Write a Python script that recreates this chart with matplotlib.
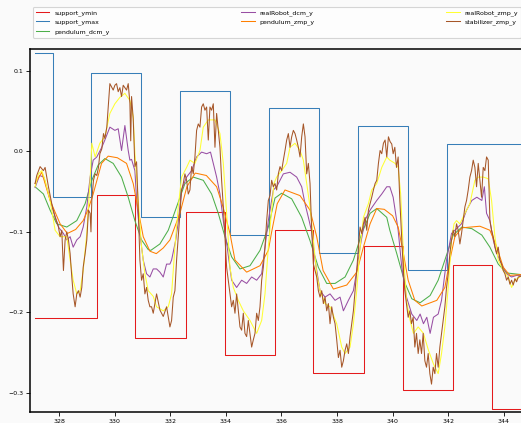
import matplotlib
matplotlib.use("Agg")
import matplotlib.pyplot as plt

# ---------------- data ----------------
ymax_t = [327.14, 327.79, 329.14, 330.95, 332.35, 334.15, 335.57, 337.35, 338.77, 340.57, 341.97, 346.5]
ymax_v = [0.122, -0.057, 0.0975, -0.082, 0.075, -0.104, 0.0537, -0.126, 0.0317, -0.147, 0.0093, 0.0093]

ymin_t = [327.14, 329.36, 330.75, 332.56, 333.97, 335.77, 337.15, 338.96, 340.36, 342.18, 343.57, 346.5]
ymin_v = [-0.2075, -0.054, -0.232, -0.0758, -0.253, -0.0977, -0.2758, -0.118, -0.2963, -0.1408, -0.3197, -0.3197]

pdcm_t = [327.14, 327.44, 327.68, 327.92, 328.28, 328.64, 328.94, 329.18, 329.41, 329.65, 329.95,
          330.25, 330.49, 330.73, 330.97, 331.21, 331.3, 331.63, 331.93, 332.23, 332.53, 332.83,
          333.19, 333.49, 333.73, 333.97, 334.21, 334.51, 334.87, 335.23, 335.53, 335.77, 336.01,
          336.37, 336.73, 337.03, 337.33, 337.63, 337.93, 338.29, 338.59, 338.89, 339.19, 339.43,
          339.79, 339.9, 340.15, 340.45, 340.69, 340.99, 341.35, 341.64, 341.88, 342.18, 342.49,
          342.85, 343.21, 343.5, 343.8, 344.1, 344.62]
pdcm_v = [-0.044, -0.053, -0.073, -0.09, -0.094, -0.086, -0.065, -0.036, -0.017, -0.009, -0.015,
          -0.032, -0.057, -0.086, -0.11, -0.122, -0.123, -0.115, -0.098, -0.069, -0.04, -0.032,
          -0.036, -0.053, -0.077, -0.106, -0.131, -0.146, -0.142, -0.123, -0.094, -0.058, -0.052,
          -0.059, -0.082, -0.111, -0.144, -0.164, -0.164, -0.156, -0.135, -0.102, -0.077, -0.071,
          -0.082, -0.098, -0.127, -0.164, -0.183, -0.188, -0.179, -0.16, -0.135, -0.104, -0.094,
          -0.096, -0.104, -0.119, -0.14, -0.151, -0.153]

rdcm_t = [327.14, 327.3, 327.45, 327.6, 327.8, 328.0, 328.16, 328.28, 328.4, 328.51, 328.64, 328.76,
          328.87, 329.0, 329.12, 329.23, 329.36, 329.54, 329.65, 329.83, 330.01, 330.13, 330.25,
          330.37, 330.49, 330.55, 330.61, 330.73, 330.8, 330.91, 331.03, 331.15, 331.27, 331.39,
          331.51, 331.63, 331.75, 331.87, 331.99, 332.05, 332.2, 332.28, 332.41, 332.59, 332.77,
          332.95, 333.13, 333.31, 333.45, 333.55, 333.67, 333.79, 333.91, 334.05, 334.21, 334.39,
          334.57, 334.75, 334.93, 335.11, 335.29, 335.41, 335.53, 335.71, 335.83, 336.07, 336.31,
          336.55, 336.73, 336.85, 336.97, 337.09, 337.21, 337.39, 337.57, 337.75, 337.93, 338.11,
          338.23, 338.41, 338.59, 338.71, 338.83, 339.0, 339.19, 339.43, 339.61, 339.79, 339.9,
          340.02, 340.09, 340.2, 340.33, 340.5, 340.69, 340.87, 340.99, 341.11, 341.23, 341.35,
          341.47, 341.64, 341.76, 341.94, 342.12, 342.3, 342.48, 342.66, 342.85, 343.03, 343.21,
          343.3, 343.38, 343.5, 343.62, 343.75, 343.92, 344.1, 344.28, 344.46, 344.62]
rdcm_v = [-0.045, -0.03, -0.032, -0.05, -0.075, -0.095, -0.102, -0.11, -0.106, -0.119, -0.11, -0.106,
          -0.094, -0.069, -0.032, -0.011, -0.007, 0.005, 0.014, 0.03, 0.026, 0.028, 0.001,
          0.032, 0.001, -0.011, -0.01, -0.024, -0.065, -0.102, -0.135, -0.152, -0.156, -0.146,
          -0.146, -0.15, -0.156, -0.14, -0.14, -0.135, -0.11, -0.09, -0.048, -0.032, -0.024,
          -0.007, -0.001, -0.003, -0.001, -0.015, -0.032, -0.053, -0.086, -0.119, -0.16, -0.169,
          -0.16, -0.164, -0.156, -0.16, -0.152, -0.119, -0.086, -0.048, -0.044, -0.028, -0.026,
          -0.032, -0.044, -0.065, -0.082, -0.1, -0.135, -0.173, -0.181, -0.177, -0.185, -0.181,
          -0.198, -0.185, -0.173, -0.148, -0.119, -0.086, -0.073, -0.061, -0.053, -0.044, -0.044,
          -0.057, -0.073, -0.098, -0.144, -0.181, -0.202, -0.21, -0.202, -0.214, -0.206, -0.226,
          -0.206, -0.202, -0.185, -0.135, -0.102, -0.096, -0.09, -0.073, -0.061, -0.057, -0.061,
          -0.044, -0.077, -0.086, -0.11, -0.127, -0.14, -0.152, -0.156, -0.154, -0.154]

pzmp_t = [327.14, 327.38, 327.68, 328.04, 328.3, 328.6, 328.87, 329.05, 329.23, 329.53, 329.77, 330.1,
          330.43, 330.67, 330.85, 331.03, 331.27, 331.5, 331.75, 331.99, 332.35, 332.6, 332.9, 333.3,
          333.67, 333.9, 334.15, 334.33, 334.75, 335.23, 335.53, 335.65, 335.85, 336.13, 336.67,
          337.03, 337.27, 337.5, 337.87, 338.35, 338.71, 338.95, 339.19, 339.43, 339.7, 340.0, 340.2,
          340.39, 340.56, 340.8, 341.05, 341.59, 341.88, 342.06, 342.24, 342.49, 343.14, 343.5,
          343.75, 343.98, 344.22, 344.62]
pzmp_v = [-0.04, -0.026, -0.061, -0.09, -0.102, -0.097, -0.086, -0.072, -0.053, -0.015, -0.006, -0.008,
          -0.015, -0.04, -0.073, -0.106, -0.124, -0.127, -0.12, -0.11, -0.077, -0.044, -0.027, -0.03,
          -0.044, -0.069, -0.102, -0.135, -0.15, -0.142, -0.123, -0.1, -0.065, -0.048, -0.055,
          -0.073, -0.106, -0.148, -0.171, -0.166, -0.15, -0.119, -0.09, -0.071, -0.072, -0.08, -0.094,
          -0.127, -0.16, -0.185, -0.192, -0.185, -0.169, -0.135, -0.106, -0.095, -0.093, -0.098,
          -0.119, -0.144, -0.154, -0.153]

rzmp_t = [327.14, 327.26, 327.38, 327.5, 327.68, 327.86, 328.04, 328.28, 328.4, 328.51, 328.64, 328.76,
          328.87, 329.0, 329.12, 329.18, 329.3, 329.47, 329.65, 329.83, 330.01, 330.19, 330.37, 330.55,
          330.67, 330.73, 330.85, 330.97, 331.09, 331.21, 331.39, 331.51, 331.75, 331.93, 332.05,
          332.17, 332.29, 332.41, 332.59, 332.71, 332.89, 333.07, 333.19, 333.37, 333.61, 333.79,
          333.91, 334.03, 334.15, 334.27, 334.45, 334.63, 334.87, 335.11, 335.29, 335.41, 335.53,
          335.65, 335.73, 335.83, 336.01, 336.19, 336.31, 336.49, 336.67, 336.79, 336.91, 337.03,
          337.15, 337.27, 337.39, 337.57, 337.75, 337.99, 338.17, 338.29, 338.47, 338.59, 338.71,
          338.83, 338.95, 339.13, 339.25, 339.43, 339.61, 339.79, 339.9, 340.09, 340.2, 340.29,
          340.39, 340.5, 340.63, 340.75, 340.92, 341.11, 341.29, 341.47, 341.64, 341.76, 341.88,
          342.0, 342.12, 342.21, 342.3, 342.42, 342.6, 342.78, 342.96, 343.08, 343.26, 343.44,
          343.56, 343.68, 343.8, 343.98, 344.16, 344.28, 344.4, 344.62]
rzmp_v = [-0.044, -0.028, -0.024, -0.036, -0.061, -0.098, -0.106, -0.106, -0.135, -0.16, -0.177, -0.173,
          -0.148, -0.102, -0.036, 0.01, -0.007, 0.01, 0.018, 0.047, 0.059, 0.067, 0.072, 0.063,
          0.043, -0.003, -0.061, -0.119, -0.152, -0.173, -0.18, -0.193, -0.198, -0.193, -0.177,
          -0.119, -0.069, -0.032, -0.02, -0.011, -0.015, 0.001, 0.03, 0.039, 0.039, 0.022,
          -0.015, -0.077, -0.144, -0.169, -0.185, -0.198, -0.21, -0.226, -0.21, -0.177, -0.119,
          -0.073, -0.04, -0.032, -0.024, -0.015, 0.005, 0.01, 0.001, -0.011, -0.04, -0.069,
          -0.11, -0.152, -0.173, -0.189, -0.193, -0.214, -0.243, -0.251, -0.243, -0.214, -0.173,
          -0.119, -0.082, -0.065, -0.048, -0.04, -0.02, -0.007, -0.011, -0.015, -0.02, -0.053,
          -0.127, -0.185, -0.21, -0.226, -0.218, -0.226, -0.247, -0.264, -0.276, -0.251, -0.218,
          -0.169, -0.11, -0.09, -0.086, -0.09, -0.077, -0.065, -0.036, -0.032, -0.032, -0.034,
          -0.061, -0.106, -0.135, -0.148, -0.156, -0.169, -0.16, -0.155]

stab_t = [327.14, 327.2, 327.32, 327.44, 327.5, 327.62, 327.74, 327.86, 327.98, 328.04, 328.1, 328.16,
          328.22, 328.28, 328.34, 328.4, 328.46, 328.51, 328.58, 328.64, 328.7, 328.76, 328.82, 328.87,
          328.94, 329.0, 329.06, 329.12, 329.15, 329.18, 329.24, 329.3, 329.36, 329.42, 329.47, 329.54,
          329.6, 329.65, 329.72, 329.77, 329.83, 329.89, 329.95, 330.01, 330.07, 330.13, 330.19, 330.25,
          330.31, 330.37, 330.43, 330.49, 330.55, 330.58, 330.61, 330.67, 330.73, 330.79, 330.85,
          330.91, 330.97, 331.03, 331.09, 331.15, 331.21, 331.27, 331.33, 331.39, 331.51, 331.63,
          331.75, 331.87, 331.99, 332.05, 332.11, 332.17, 332.23, 332.29, 332.35, 332.41, 332.47,
          332.53, 332.59, 332.65, 332.71, 332.77, 332.83, 332.89, 332.95, 333.01, 333.07, 333.13,
          333.19, 333.25, 333.31, 333.37, 333.43, 333.49, 333.55, 333.61, 333.67, 333.73, 333.79,
          333.85, 333.91, 333.97, 334.03, 334.09, 334.15, 334.21, 334.27, 334.33, 334.39, 334.45,
          334.51, 334.57, 334.63, 334.69, 334.75, 334.81, 334.87, 334.93, 334.99, 335.05, 335.11,
          335.17, 335.23, 335.29, 335.35, 335.41, 335.47, 335.53, 335.59, 335.65, 335.71, 335.77,
          335.83, 335.89, 335.95, 336.01, 336.07, 336.13, 336.19, 336.25, 336.31, 336.37, 336.43,
          336.49, 336.55, 336.61, 336.67, 336.73, 336.79, 336.85, 336.91, 336.97, 337.03, 337.09,
          337.15, 337.21, 337.27, 337.33, 337.39, 337.45, 337.51, 337.57, 337.63, 337.69, 337.75,
          337.81, 337.87, 337.93, 337.99, 338.05, 338.11, 338.17, 338.23, 338.29, 338.35, 338.41,
          338.47, 338.53, 338.59, 338.65, 338.71, 338.77, 338.83, 338.89, 338.95, 339.01, 339.07,
          339.13, 339.19, 339.25, 339.31, 339.37, 339.43, 339.49, 339.55, 339.61, 339.67, 339.73,
          339.79, 339.85, 339.91, 339.97, 340.02, 340.08, 340.14, 340.2, 340.26, 340.32, 340.38,
          340.44, 340.5, 340.56, 340.62, 340.68, 340.74, 340.8, 340.86, 340.92, 340.98, 341.04,
          341.1, 341.16, 341.22, 341.28, 341.34, 341.4, 341.46, 341.52, 341.58, 341.64, 341.7,
          341.76, 341.82, 341.88, 341.94, 342.0, 342.06, 342.12, 342.18, 342.24, 342.3, 342.36,
          342.42, 342.48, 342.54, 342.6, 342.66, 342.72, 342.78, 342.84, 342.9, 342.96, 343.02,
          343.08, 343.14, 343.2, 343.26, 343.32, 343.38, 343.44, 343.5, 343.56, 343.62, 343.68,
          343.74, 343.8, 343.86, 343.92, 343.98, 344.04, 344.1, 344.16, 344.22, 344.28, 344.34,
          344.4, 344.46, 344.52, 344.62]
stab_v = [-0.04, -0.03, -0.019, -0.024, -0.02, -0.044, -0.065, -0.082, -0.094, -0.106, -0.098, -0.148,
          -0.11, -0.1, -0.11, -0.127, -0.156, -0.177, -0.193, -0.177, -0.173, -0.181, -0.169, -0.144,
          -0.127, -0.11, -0.073, -0.077, -0.1, -0.061, -0.036, -0.028, -0.03, -0.02, -0.003, 0.003,
          0.022, 0.016, 0.03, 0.055, 0.084, 0.08, 0.076, 0.082, 0.084, 0.074, 0.079, 0.068,
          0.082, 0.079, 0.076, 0.084, 0.06, 0.013, 0.068, 0.04, -0.019, -0.013, -0.069,
          -0.135, -0.16, -0.152, -0.177, -0.169, -0.185, -0.193, -0.193, -0.201, -0.177, -0.197,
          -0.205, -0.193, -0.218, -0.21, -0.181, -0.173, -0.135, -0.106, -0.077, -0.048, -0.04,
          -0.028, -0.036, -0.053, -0.048, -0.019, -0.028, -0.007, 0.026, 0.034, 0.03, 0.055,
          0.059, 0.051, 0.055, 0.014, 0.055, 0.051, 0.059, 0.005, 0.047, 0.026, 0.005,
          -0.036, -0.069, -0.106, -0.144, -0.16, -0.177, -0.193, -0.185, -0.201, -0.177, -0.197,
          -0.218, -0.222, -0.201, -0.226, -0.23, -0.21, -0.226, -0.243, -0.234, -0.226, -0.201,
          -0.21, -0.193, -0.16, -0.144, -0.119, -0.086, -0.061, -0.055, -0.036, -0.044, -0.04,
          -0.048, -0.028, -0.019, -0.024, -0.011, 0.001, 0.014, 0.022, 0.005, 0.018, 0.026,
          0.022, 0.014, 0.005, -0.007, 0.018, 0.034, 0.018, -0.028, -0.015, -0.04, -0.098,
          -0.14, -0.148, -0.156, -0.173, -0.181, -0.173, -0.189, -0.181, -0.198, -0.189, -0.214,
          -0.193, -0.206, -0.214, -0.234, -0.256, -0.247, -0.268, -0.26, -0.247, -0.239, -0.251,
          -0.23, -0.214, -0.198, -0.173, -0.148, -0.119, -0.094, -0.102, -0.09, -0.082, -0.098,
          -0.073, -0.065, -0.057, -0.048, -0.04, -0.036, -0.015, 0.001, -0.003, 0.01, 0.014,
          -0.007, 0.018, 0.012, 0.009, -0.003, 0.005, -0.02, -0.007, -0.061, -0.102, -0.144,
          -0.173, -0.189, -0.206, -0.198, -0.214, -0.206, -0.243, -0.226, -0.251, -0.234, -0.251,
          -0.226, -0.26, -0.268, -0.251, -0.276, -0.289, -0.268, -0.276, -0.251, -0.268, -0.243,
          -0.226, -0.21, -0.193, -0.169, -0.152, -0.127, -0.11, -0.098, -0.106, -0.09, -0.098,
          -0.115, -0.102, -0.086, -0.069, -0.061, -0.048, -0.032, -0.024, -0.011, -0.02, -0.044,
          -0.015, -0.036, -0.057, -0.02, -0.024, -0.007, -0.011, -0.086, -0.098, -0.106, -0.119,
          -0.127, -0.119, -0.135, -0.14, -0.148, -0.152, -0.16, -0.156, -0.165, -0.16, -0.166,
          -0.158, -0.162, -0.156, -0.155]

labels = ["support_ymin", "support_ymax", "pendulum_dcm_y", "realRobot_dcm_y",
          "pendulum_zmp_y", "realRobot_zmp_y", "stabilizer_zmp_y"]
colors = ["#e41a1c", "#377eb8", "#4daf4a", "#984ea3", "#ff7f00", "#ffff33", "#a65628"]
xticks = [328, 330, 332, 334, 336, 338, 340, 342, 344]
yticks = [-0.3, -0.2, -0.1, 0.0, 0.1]

# ---------------- figure ----------------
W, H = 521, 423
fig = plt.figure(figsize=(W / 100, H / 100), dpi=100, facecolor="#fafafa")
ax_left, ax_right, ax_top, ax_bottom = 30, 560, 49, 412
ax = fig.add_axes([ax_left / W, (H - ax_bottom) / H, (ax_right - ax_left) / W,
                   (ax_bottom - ax_top) / H])
ax.set_facecolor("#fafafa")

lw = 0.75
ax.step(ymin_t, ymin_v, where="post", color=colors[0], lw=lw, label=labels[0])
ax.step(ymax_t, ymax_v, where="post", color=colors[1], lw=lw, label=labels[1])
ax.plot(pdcm_t, pdcm_v, color=colors[2], lw=lw, label=labels[2])
ax.plot(rdcm_t, rdcm_v, color=colors[3], lw=lw, label=labels[3])
ax.plot(pzmp_t, pzmp_v, color=colors[4], lw=lw, label=labels[4])
ax.plot(rzmp_t, rzmp_v, color=colors[5], lw=lw, label=labels[5])
ax.plot(stab_t, stab_v, color=colors[6], lw=lw, label=labels[6])

ax.set_xlim(326.957, 328 + (ax_right - 59) / 27.8)
ax.set_ylim(-0.3236, 0.127)
ax.set_xticks(xticks)
ax.set_xticklabels([str(t) for t in xticks])
ax.set_yticks(yticks)
ax.set_yticklabels(["\u22120.3", "\u22120.2", "\u22120.1", "0.0", "0.1"])
ax.tick_params(labelsize=4.5, length=3, width=0.6, pad=2)
for s in ax.spines.values():
    s.set_linewidth(1.1)
    s.set_color("black")

leg = fig.legend(loc="upper left", bbox_to_anchor=(33 / W, 1 - 7 / H),
                 bbox_transform=fig.transFigure, ncol=3, fontsize=4.5,
                 columnspacing=21.0, handlelength=2.2, borderaxespad=0,
                 frameon=True, fancybox=True, labelspacing=0.6)
leg.get_frame().set_edgecolor("#cccccc")
leg.get_frame().set_linewidth(0.8)

fig.savefig("out.png", dpi=100, facecolor=fig.get_facecolor())
